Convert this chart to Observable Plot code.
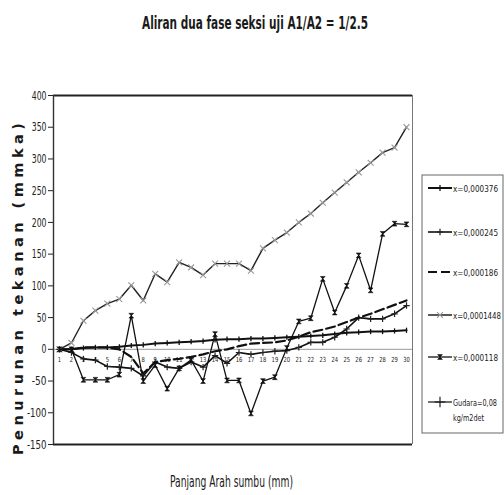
<!DOCTYPE html>
<html><head><meta charset="utf-8">
<script src="https://cdn.jsdelivr.net/npm/d3@7"></script>
<script src="https://cdn.jsdelivr.net/npm/@observablehq/plot@0.6"></script>
<style>
body{margin:0;background:#fff;}
#wrap{position:relative;width:504px;height:495px;overflow:hidden;background:#fff;}
#wrap svg{position:absolute;left:0;top:0;}
</style></head><body><div id="wrap"></div>
<script>
const categories = [1,2,3,4,5,6,7,8,9,10,11,12,13,14,15,16,17,18,19,20,21,22,23,24,25,26,27,28,29,30];
const categoryLabels = ["1","2","3","4","5","6","7","8","9","10","11","12","13","14","15","16","17","18","19","20","21","22","23","24","25","26","27","28","29","30"];
const yTicks = [-150,-100,-50,0,50,100,150,200,250,300,350,400];
const seriesNames = ["x=0,000376","x=0,000245","x=0,000186","x=0,0001448","x=0,000118","Gudara=0,08"];
const legendExtra = "kg/m2det";
const s376  = [0,0,2,3,3,4,6,7,9,10,11,12,13,15,16,16,17,17,18,19,20,21,22,24,26,27,28,28,29,30];
const s245  = [0,-5,-15,-17,-27,-28,-30,-42,-20,-28,-30,-20,-28,-10,-22,-5,-8,-5,-3,-2,3,11,11,19,32,50,48,48,56,69];
const s186  = [0,0,3,3,3,0,-12,-38,-20,-17,-15,-12,-8,-3,0,5,9,10,11,14,20,27,31,36,43,50,56,63,70,77];
const s1448 = [0,10,45,61,72,79,101,77,119,106,137,129,117,135,135,135,124,159,172,184,200,214,231,247,263,279,294,310,318,350];
const s118  = [0,0,-48,-48,-48,-40,53,-50,-25,-62,-30,-17,-50,24,-49,-49,-101,-50,-44,2,44,49,111,58,100,148,93,182,198,197];
const titleText = "Aliran dua fase seksi uji  A1/A2 = 1/2.5";
const xTitle = "Panjang Arah sumbu (mm)";
const yTitle = "Penurunan tekanan (mmka)";

const narrow = "'Liberation Sans Narrow','DejaVu Sans Condensed','Liberation Sans',sans-serif";

const hourglass = {draw(ctx, size){const r=Math.sqrt(size/Math.PI); ctx.moveTo(-r,-r); ctx.lineTo(r,-r); ctx.lineTo(-r,r); ctx.lineTo(r,r); ctx.closePath();}};
const vtick = {draw(ctx, size){const r=Math.sqrt(size/Math.PI); ctx.moveTo(0,-r); ctx.lineTo(0,r);}};

function rows(vals){ return categories.map((c,i)=>({x:c, y:vals[i]})); }

const styles = [
  {data: rows(s376),  line:{stroke:"#111", strokeWidth:2}, dot:{symbol:vtick, r:2.6, stroke:"#111", strokeWidth:1.3, fill:"none"}},
  {data: rows(s245),  line:{stroke:"#111", strokeWidth:1.6}, dot:{symbol:"plus", r:2.2, stroke:"#222", strokeWidth:1.2}},
  {data: rows(s186),  line:{stroke:"#111", strokeWidth:2.2, strokeDasharray:"9,4"}, dot:null},
  {data: rows(s1448), line:{stroke:"#222", strokeWidth:1.4}, dot:{symbol:"times", r:2.8, stroke:"#999", strokeWidth:1.1}},
  {data: rows(s118),  line:{stroke:"#111", strokeWidth:1.3}, dot:{symbol:hourglass, r:2.4, fill:"#111", stroke:"#111", strokeWidth:0.6}}
];

const marks = [
  Plot.ruleY([0], {stroke:"#999", strokeWidth:1}),
  Plot.ruleY([400], {stroke:"#222", strokeWidth:2}),
  Plot.ruleY([-150], {stroke:"#222", strokeWidth:2.2}),
  Plot.ruleX([30.5], {stroke:"#777", strokeWidth:1}),
  Plot.ruleX([0.5], {stroke:"#333", strokeWidth:1.4}),
  Plot.text(categories.map((c,i)=>({x:c, y:0, t:categoryLabels[i]})), {x:"x", y:"y", text:"t", dy:10, fontSize:7, fill:"#222", fontFamily:narrow})
];
for (const s of styles){
  marks.push(Plot.line(s.data, {x:"x", y:"y", ...s.line}));
  if (s.dot) marks.push(Plot.dot(s.data, {x:"x", y:"y", ...s.dot}));
}

const chart = Plot.plot({
  width:504, height:495,
  marginLeft:53, marginRight:92, marginTop:95, marginBottom:51,
  style:{fontFamily:narrow, fontSize:"13px", color:"#222", background:"transparent"},
  x:{domain:[0.5,30.5], axis:null},
  y:{domain:[-150,400], ticks:yTicks, tickSize:5, tickPadding:2, tickFormat:d=>String(d), label:null},
  marks
});
const wrap = document.getElementById("wrap");
wrap.appendChild(chart);

// condense the y tick labels like the reference
d3.select(chart).selectAll('g[aria-label^="y-axis"] text').each(function(){
  const t = this.textContent || "";
  if (t.length) { this.setAttribute("textLength", (t.length * 4.9).toFixed(1)); this.setAttribute("lengthAdjust","spacingAndGlyphs"); }
});
d3.select(chart).selectAll('g[aria-label="text"] text').each(function(){
  const t = this.textContent || "";
  this.setAttribute("textLength", (t.length * 3.3).toFixed(1)); this.setAttribute("lengthAdjust","spacingAndGlyphs");
});

// overlay: titles and legend
const ov = d3.select(wrap).append("svg").attr("width",504).attr("height",495).style("pointer-events","none");
ov.append("text").attr("x",142).attr("y",29).attr("textLength",226).attr("lengthAdjust","spacingAndGlyphs")
  .attr("font-family",narrow).attr("font-size",17).attr("font-weight","bold").attr("fill","#1a1a1a").text(titleText);
ov.append("text").attr("x",170).attr("y",487).attr("textLength",123).attr("lengthAdjust","spacingAndGlyphs")
  .attr("font-family",narrow).attr("font-size",15).attr("fill","#1a1a1a").text(xTitle);
ov.append("text").attr("transform","translate(23,455) rotate(-90)").attr("textLength",332).attr("lengthAdjust","spacing")
  .attr("font-family","'DejaVu Sans',sans-serif").attr("font-size",14.5).attr("font-weight","bold").attr("fill","#1a1a1a").text(yTitle);

// legend
ov.append("rect").attr("x",422).attr("y",175).attr("width",81).attr("height",258).attr("fill","none").attr("stroke","#666").attr("stroke-width",1);
const legY = [188,232,272,315,357,402];
const legW = [45,45,45,48,45,44];
const legF = [9,9,9,8,9,8];
const legSym = [
  {sym:vtick, r:3, stroke:"#111", fill:"none", w:1.3, line:{w:2}},
  {sym:d3.symbolPlus, r:2.2, stroke:"#222", fill:"none", w:1.2, line:{w:1.6}},
  {sym:null, line:{w:2.2, dash:"9,4"}},
  {sym:d3.symbolTimes, r:2.8, stroke:"#999", fill:"none", w:1.1, line:{w:1.4}},
  {sym:hourglass, r:2.4, stroke:"#111", fill:"#111", w:0.6, line:{w:1.3}},
  {sym:d3.symbolPlus, r:3.5, stroke:"#111", fill:"none", w:1.1, line:{w:1.2}}
];
seriesNames.forEach((name,i)=>{
  const y = legY[i], L = legSym[i];
  ov.append("line").attr("x1",428).attr("x2",452).attr("y1",y).attr("y2",y).attr("stroke","#111")
    .attr("stroke-width",L.line.w).attr("stroke-dasharray",L.line.dash||null);
  if (L.sym){
    ov.append("path").attr("transform",`translate(440,${y})`).attr("d",d3.symbol(L.sym, Math.PI*L.r*L.r)())
      .attr("fill",L.fill).attr("stroke",L.stroke).attr("stroke-width",L.w);
  }
  ov.append("text").attr("x",453).attr("y",y+4).attr("font-family",narrow).attr("font-size",legF[i])
    .attr("textLength",legW[i]).attr("lengthAdjust","spacingAndGlyphs").attr("fill","#1a1a1a").text(name);
});
ov.append("text").attr("x",453).attr("y",421).attr("font-family",narrow).attr("font-size",9)
  .attr("textLength",31).attr("lengthAdjust","spacingAndGlyphs").attr("fill","#1a1a1a").text(legendExtra);
</script></body></html>
